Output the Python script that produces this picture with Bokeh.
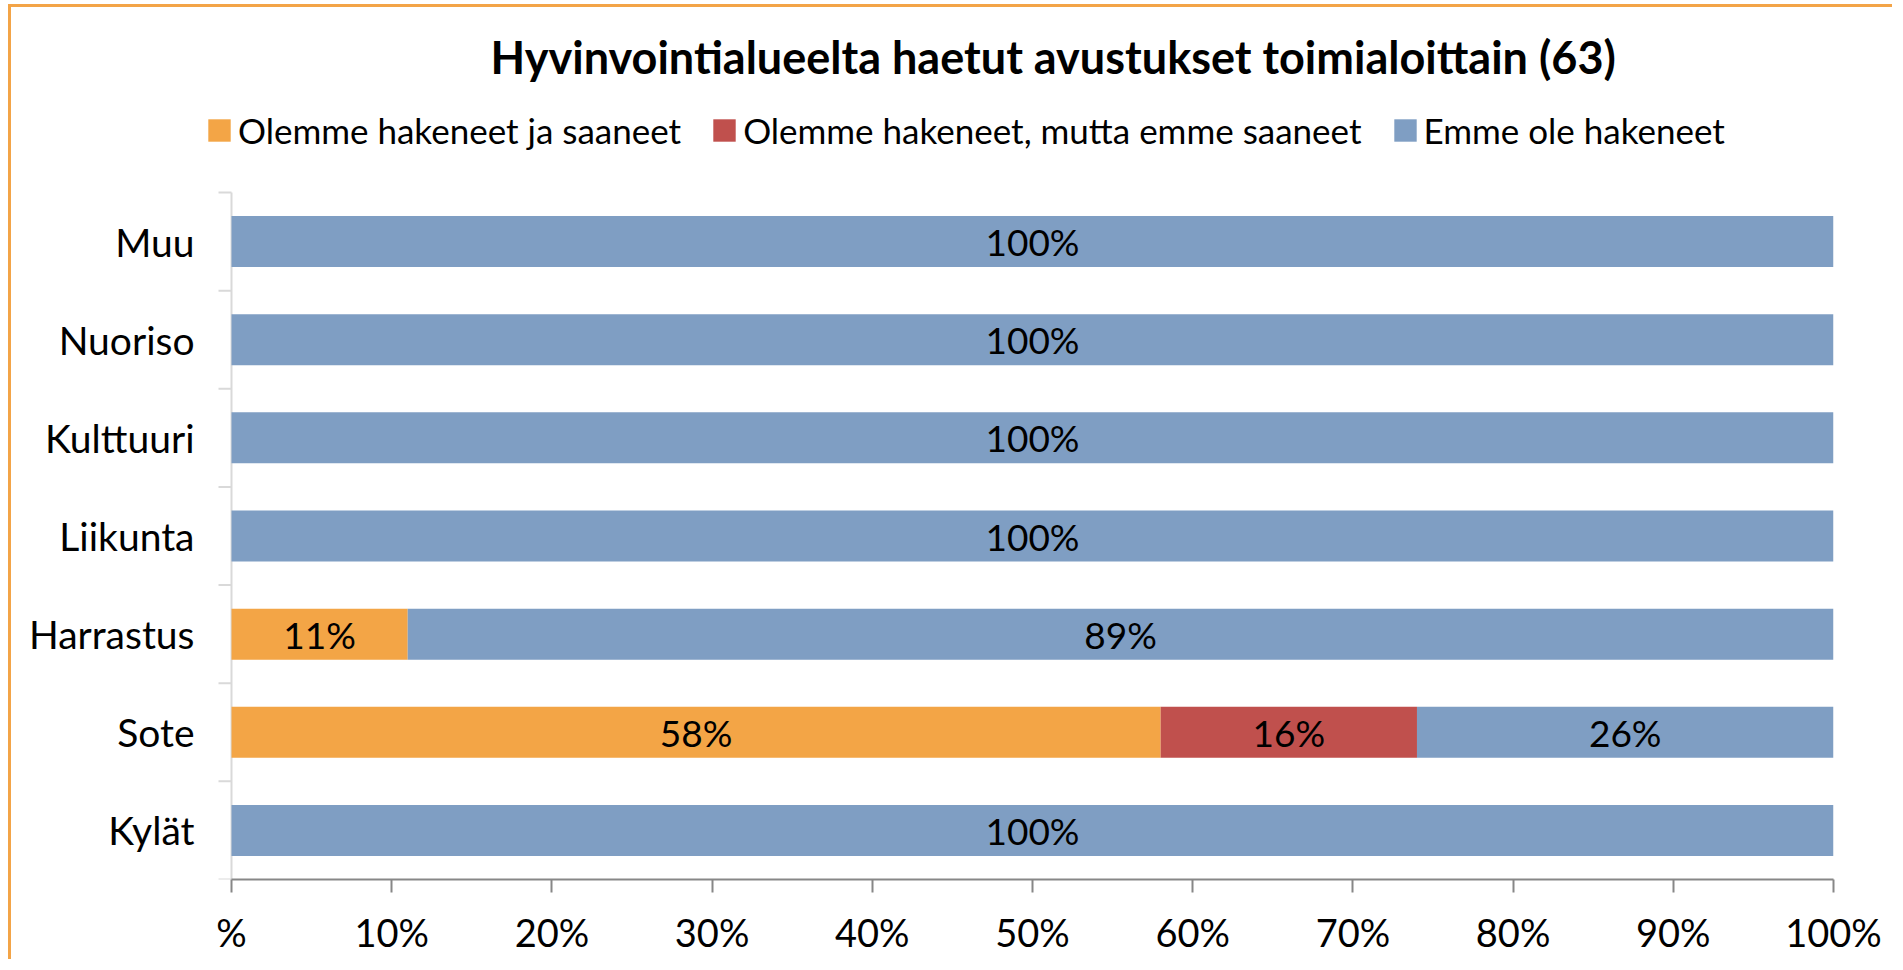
from bokeh.plotting import figure
from bokeh.models import FixedTicker, Legend, LegendItem, Range1d, ColumnDataSource
from bokeh.core.properties import value
from bokeh.embed import file_html
from bokeh.resources import INLINE

# ---- data ----
categories = ["Kylät", "Sote", "Harrastus", "Liikunta", "Kulttuuri", "Nuoriso", "Muu"]
haettu_saatu = [0, 58, 11, 0, 0, 0, 0]
haettu_ei_saatu = [0, 16, 0, 0, 0, 0, 0]
ei_haettu = [100, 26, 89, 100, 100, 100, 100]
series_names = ["Olemme hakeneet ja saaneet",
                "Olemme hakeneet, mutta emme saaneet",
                "Emme ole hakeneet"]
series_colors = ["#F3A546", "#C0504D", "#7F9EC3"]
x_tick_values = [0, 10, 20, 30, 40, 50, 60, 70, 80, 90, 100]
x_tick_labels = ["%", "10%", "20%", "30%", "40%", "50%", "60%", "70%", "80%", "90%", "100%"]
title_text = "Hyvinvointialueelta haetut avustukset toimialoittain (63)"

FONT = "Lato"

# ---- layout constants (pixels) ----
W, H = 1884, 955
FRAME_LEFT, FRAME_TOP = 197, 90           # frame incl. legend area
PLOT_LEFT, PLOT_RIGHT = 220, 1822         # where 0 % and 100 % sit
PLOT_TOP, PLOT_BOTTOM = 185, 872          # top / bottom of the category band
LEGEND_TOP, LEGEND_H = 100, 44
n = len(categories)
px_x = (PLOT_RIGHT - PLOT_LEFT) / 100.0
px_y = (PLOT_BOTTOM - PLOT_TOP) / n
x_start = -(PLOT_LEFT - FRAME_LEFT) / px_x
y_end = (n - 0.5) + (PLOT_TOP - FRAME_TOP) / px_y
tick_len = 13 / px_x

p = figure(width=W, height=H, output_backend="svg", toolbar_location=None,
           x_range=Range1d(x_start, 100), y_range=Range1d(-0.5, y_end),
           min_border_left=FRAME_LEFT, min_border_right=W - PLOT_RIGHT,
           min_border_top=FRAME_TOP, min_border_bottom=H - PLOT_BOTTOM,
           styles={"border-top": "3px solid #F3A447", "border-left": "3px solid #F3A447",
                   "margin-left": "8px", "margin-top": "4px"})

p.title.text = title_text
p.title.text_font = FONT
p.title.text_font_size = "45px"
p.title.text_font_style = "bold"
p.title.text_color = "black"
p.title.align = "left"
p.title.offset = PLOT_LEFT + 259 - FRAME_LEFT
p.title.standoff = 28

p.xgrid.visible = False
p.ygrid.visible = False
p.outline_line_color = None

ys = list(range(n))
bounds = [i - 0.5 for i in range(n + 1)]

# category axis line and the tick marks between categories
p.segment(x0=[0], x1=[0], y0=[bounds[0]], y1=[bounds[-1]], line_color="#D9D9D9", line_width=2)
p.segment(x0=[-tick_len] * len(bounds), x1=[0] * len(bounds), y0=bounds, y1=bounds,
          line_color="#D9D9D9", line_width=2)

series = [haettu_saatu, haettu_ei_saatu, ei_haettu]
left = [0.0] * n
renderers = []
label_x, label_y, label_t = [], [], []
for vals, name, col in zip(series, series_names, series_colors):
    right = [l + v for l, v in zip(left, vals)]
    src = ColumnDataSource(dict(y=ys, left=left, right=right))
    r = p.hbar(y="y", left="left", right="right", height=0.52, source=src,
               fill_color=col, line_color=None)
    renderers.append(r)
    for i, v in enumerate(vals):
        if v > 0:
            label_x.append(left[i] + v / 2)
            label_y.append(i)
            label_t.append(f"{v}%")
    left = right

p.text(x=label_x, y=label_y, text=label_t, text_align="center", text_baseline="middle",
       text_font=value(FONT), text_font_size="37px", text_color="black")

legend = Legend(items=[LegendItem(label=nm, renderers=[r]) for nm, r in zip(series_names, renderers)],
                orientation="horizontal",
                location=(-3, PLOT_BOTTOM - LEGEND_TOP - LEGEND_H))
legend.label_text_font = FONT
legend.label_text_font_size = "35px"
legend.label_text_color = "black"
legend.glyph_width = 28
legend.glyph_height = 28
legend.label_standoff = 5
legend.spacing = 29
legend.padding = 0
legend.margin = 0
legend.border_line_color = None
legend.background_fill_alpha = 0
p.add_layout(legend, "center")

# y axis: labels only
ya = p.yaxis[0]
ya.ticker = FixedTicker(ticks=ys, minor_ticks=[])
ya.major_label_overrides = {i: c for i, c in enumerate(categories)}
ya.axis_line_color = None
ya.major_tick_line_color = None
ya.minor_tick_line_color = None
ya.major_tick_out = 0
ya.major_tick_in = 0
ya.minor_tick_out = 0
ya.minor_tick_in = 0
ya.major_label_standoff = 14
ya.major_label_text_font = FONT
ya.major_label_text_font_size = "39px"
ya.major_label_text_color = "black"

# x axis
xa = p.xaxis[0]
xa.bounds = (0, 100)
xa.ticker = FixedTicker(ticks=x_tick_values, minor_ticks=[])
xa.major_label_overrides = {v: t for v, t in zip(x_tick_values, x_tick_labels)}
xa.major_tick_out = 13
xa.major_tick_in = 0
xa.minor_tick_out = 0
xa.minor_tick_in = 0
xa.major_tick_line_color = "#878787"
xa.major_tick_line_width = 2
xa.axis_line_color = "#878787"
xa.axis_line_width = 2
xa.major_label_standoff = 16
xa.major_label_text_font = FONT
xa.major_label_text_font_size = "38px"
xa.major_label_text_color = "black"

open("out.html", "w").write(file_html(p, INLINE))
